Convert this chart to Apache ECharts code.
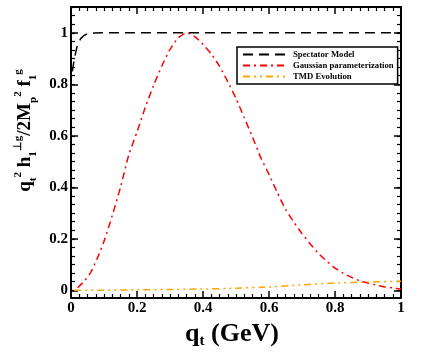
<!DOCTYPE html>
<html>
  <head>
    <meta charset="utf-8">
    <title>q_t distribution</title>
    <script type="text/javascript" src="https://cdn.jsdelivr.net/npm/echarts@6/dist/echarts.min.js"></script>
    <style>
      html, body { margin: 0; padding: 0; background: #fff; }
      #chart { width: 436px; height: 354px; }
    </style>
  </head>
  <body>
    <div id="chart"></div>
    <script type="text/javascript">
      // data
      var spectatorQ = [0.004, 0.01, 0.02, 0.03, 0.04, 0.05, 0.07, 0.1, 0.2, 0.4, 0.6, 0.8, 1.0];
      var spectatorV = [0.85, 0.9, 0.955, 0.978, 0.99, 0.996, 0.999, 1, 1, 1, 1, 1, 1];

      var gaussQ = [0.02, 0.04, 0.06, 0.08, 0.1, 0.125, 0.15, 0.175, 0.2, 0.225, 0.25, 0.275, 0.3, 0.325,
                    0.35, 0.375, 0.4, 0.425, 0.45, 0.475, 0.5, 0.525, 0.55, 0.575, 0.6, 0.625, 0.65, 0.675,
                    0.7, 0.725, 0.75, 0.775, 0.8, 0.825, 0.85, 0.875, 0.9, 0.925, 0.95, 0.975, 1.0];
      var gaussV = [0.01, 0.035, 0.07, 0.125, 0.19, 0.29, 0.4, 0.525, 0.615, 0.71, 0.795, 0.87, 0.935, 0.98,
                    1.0, 0.985, 0.955, 0.918, 0.87, 0.81, 0.745, 0.67, 0.595, 0.515, 0.45, 0.38, 0.315, 0.265,
                    0.22, 0.18, 0.143, 0.113, 0.086, 0.066, 0.05, 0.037, 0.028, 0.02, 0.013, 0.009, 0.005];

      var tmdQ = [0.01, 0.1, 0.2, 0.3, 0.4, 0.5, 0.6, 0.7, 0.8, 0.9, 1.0];
      var tmdV = [0.0, 0.0005, 0.0015, 0.003, 0.005, 0.008, 0.013, 0.021, 0.028, 0.032, 0.035];

      var yTickLabels = [0, 0.2, 0.4, 0.6, 0.8, 1];

      function pairs(xs, ys) {
        return xs.map(function (x, i) { return [x, ys[i]]; });
      }

      // minor ticks on the y axis: 6 subdivisions per 0.2
      var yMinor = [];
      for (var i = 0; i <= 33; i++) yMinor.push(i / 30);

      var serif = 'Liberation Serif';
      var black = '#000';

      function xAxisOpt(pos, labels) {
        return {
          type: 'value', position: pos, min: 0, max: 1, interval: 0.2,
          axisLine: { show: true, onZero: false, lineStyle: { color: black, width: 2 } },
          axisTick: { show: true, inside: true, length: 7, lineStyle: { color: black, width: 1.5 } },
          minorTick: { show: true, splitNumber: 8, length: 4, lineStyle: { color: black, width: 1.2 } },
          splitLine: { show: false },
          axisLabel: { show: labels, margin: 3, color: black, fontFamily: serif, fontWeight: 'bold', fontSize: 15 },
          name: labels ? '{m|q}{sb|t}{m| (GeV)}' : '',
          nameLocation: 'middle',
          nameGap: 18,
          nameTextStyle: {
            padding: [0, 8, 0, 0],
            rich: {
              m: { fontFamily: serif, fontWeight: 'bold', fontSize: 26, color: black, lineHeight: 30 },
              sb: { fontFamily: serif, fontWeight: 'bold', fontSize: 15, color: black, lineHeight: 15, verticalAlign: 'bottom' }
            }
          }
        };
      }

      function yAxisOpt(pos, labels) {
        return {
          type: 'value', position: pos, min: -0.03, max: 1.1,
          axisLine: { show: true, onZero: false, lineStyle: { color: black, width: 2 } },
          axisTick: { show: true, inside: true, length: 7, customValues: yTickLabels, lineStyle: { color: black, width: 1.5 } },
          splitLine: { show: false },
          axisLabel: { show: labels, customValues: yTickLabels, margin: 3, color: black, fontFamily: serif, fontWeight: 'bold', fontSize: 15 },
          name: labels ? '{m|q}{sb|t}{sp|2}{m| h}{sb|1}{sp|⊥g}{m|/2M}{sb|p}{sp|2}{m| f}{sb|1}{sp|g}' : '',
          nameLocation: 'middle',
          nameRotate: 90,
          nameGap: 29,
          nameTextStyle: {
            padding: [0, 0, 0, 44],
            rich: {
              m: { fontFamily: serif, fontWeight: 'bold', fontSize: 19, color: black, lineHeight: 26 },
              sb: { fontFamily: serif, fontWeight: 'bold', fontSize: 11, color: black, lineHeight: 12, verticalAlign: 'bottom' },
              sp: { fontFamily: serif, fontWeight: 'bold', fontSize: 11, color: black, lineHeight: 12, verticalAlign: 'top' }
            }
          }
        };
      }

      function yMinorOpt(pos) {
        return {
          type: 'value', position: pos, min: -0.03, max: 1.1,
          axisLine: { show: false, onZero: false },
          axisTick: { show: true, inside: true, length: 4, customValues: yMinor, lineStyle: { color: black, width: 1.2 } },
          splitLine: { show: false },
          axisLabel: { show: false }
        };
      }

      var chart = echarts.init(document.getElementById('chart'));
      var option = {
        animation: false,
        backgroundColor: '#fff',
        grid: { left: 71, right: 35, top: 7, bottom: 56 },
        legend: {
          orient: 'vertical',
          left: 237,
          top: 47,
          padding: [3, 4, 3, 5],
          itemWidth: 45,
          itemHeight: 10,
          itemGap: 2,
          borderColor: black,
          borderWidth: 1.5,
          borderRadius: 0,
          backgroundColor: '#fff',
          itemStyle: { opacity: 0 },
          textStyle: { fontFamily: serif, fontWeight: 'bold', fontSize: 8.7, color: black },
          data: ['Spectator Model', 'Gaussian parameterization', 'TMD Evolution']
        },
        xAxis: [xAxisOpt('bottom', true), xAxisOpt('top', false)],
        yAxis: [yAxisOpt('left', true), yAxisOpt('right', false), yMinorOpt('left'), yMinorOpt('right')],
        series: [
          {
            name: 'Spectator Model', type: 'line', symbol: 'none', xAxisIndex: 0, yAxisIndex: 0,
            lineStyle: { color: black, width: 1.5, type: [10, 6] },
            itemStyle: { color: black },
            data: pairs(spectatorQ, spectatorV)
          },
          {
            name: 'Gaussian parameterization', type: 'line', symbol: 'none', smooth: 0.2, xAxisIndex: 0, yAxisIndex: 0,
            lineStyle: { color: '#ff0000', width: 1.5, type: [7, 4, 2, 4] },
            itemStyle: { color: '#ff0000' },
            data: pairs(gaussQ, gaussV)
          },
          {
            name: 'TMD Evolution', type: 'line', symbol: 'none', smooth: 0.2, xAxisIndex: 0, yAxisIndex: 0,
            lineStyle: { color: '#ffa500', width: 1.5, type: [7, 4, 2, 4, 2, 4] },
            itemStyle: { color: '#ffa500' },
            data: pairs(tmdQ, tmdV)
          }
        ]
      };
      chart.setOption(option);
    </script>
  </body>
</html>
